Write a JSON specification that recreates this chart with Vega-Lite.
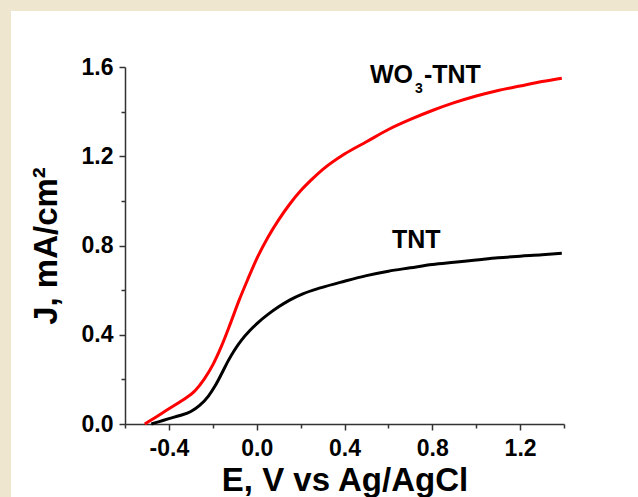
{
  "$schema": "https://vega.github.io/schema/vega-lite/v6.json",
  "width": 627,
  "height": 486,
  "autosize": "none",
  "padding": {"left": 11, "top": 11, "right": 0, "bottom": 0},
  "background": "#efe6cf",
  "config": {
    "view": {"fill": "white", "stroke": null},
    "font": "Liberation Sans"
  },
  "datasets": {
    "curves": [
      {"series": "WO3-TNT", "E": -0.51, "J": 0.0},
      {"series": "WO3-TNT", "E": -0.46, "J": 0.03},
      {"series": "WO3-TNT", "E": -0.40, "J": 0.068},
      {"series": "WO3-TNT", "E": -0.34, "J": 0.105},
      {"series": "WO3-TNT", "E": -0.28, "J": 0.15},
      {"series": "WO3-TNT", "E": -0.24, "J": 0.2},
      {"series": "WO3-TNT", "E": -0.20, "J": 0.265},
      {"series": "WO3-TNT", "E": -0.16, "J": 0.35},
      {"series": "WO3-TNT", "E": -0.12, "J": 0.45},
      {"series": "WO3-TNT", "E": -0.08, "J": 0.555},
      {"series": "WO3-TNT", "E": -0.04, "J": 0.65},
      {"series": "WO3-TNT", "E": 0.0, "J": 0.74},
      {"series": "WO3-TNT", "E": 0.05, "J": 0.835},
      {"series": "WO3-TNT", "E": 0.1, "J": 0.915},
      {"series": "WO3-TNT", "E": 0.15, "J": 0.985},
      {"series": "WO3-TNT", "E": 0.2, "J": 1.045},
      {"series": "WO3-TNT", "E": 0.25, "J": 1.095},
      {"series": "WO3-TNT", "E": 0.3, "J": 1.14},
      {"series": "WO3-TNT", "E": 0.4, "J": 1.21},
      {"series": "WO3-TNT", "E": 0.5, "J": 1.265},
      {"series": "WO3-TNT", "E": 0.6, "J": 1.32},
      {"series": "WO3-TNT", "E": 0.7, "J": 1.365},
      {"series": "WO3-TNT", "E": 0.8, "J": 1.405},
      {"series": "WO3-TNT", "E": 0.9, "J": 1.44},
      {"series": "WO3-TNT", "E": 1.0, "J": 1.47},
      {"series": "WO3-TNT", "E": 1.1, "J": 1.495},
      {"series": "WO3-TNT", "E": 1.2, "J": 1.515},
      {"series": "WO3-TNT", "E": 1.3, "J": 1.535},
      {"series": "WO3-TNT", "E": 1.39, "J": 1.55},
      {"series": "TNT", "E": -0.48, "J": 0.0},
      {"series": "TNT", "E": -0.44, "J": 0.012},
      {"series": "TNT", "E": -0.40, "J": 0.024},
      {"series": "TNT", "E": -0.35, "J": 0.038},
      {"series": "TNT", "E": -0.30, "J": 0.056},
      {"series": "TNT", "E": -0.26, "J": 0.083},
      {"series": "TNT", "E": -0.22, "J": 0.125},
      {"series": "TNT", "E": -0.19, "J": 0.17},
      {"series": "TNT", "E": -0.16, "J": 0.225},
      {"series": "TNT", "E": -0.13, "J": 0.283},
      {"series": "TNT", "E": -0.10, "J": 0.333},
      {"series": "TNT", "E": -0.07, "J": 0.375},
      {"series": "TNT", "E": -0.03, "J": 0.42},
      {"series": "TNT", "E": 0.01, "J": 0.458},
      {"series": "TNT", "E": 0.05, "J": 0.49},
      {"series": "TNT", "E": 0.1, "J": 0.525},
      {"series": "TNT", "E": 0.15, "J": 0.555},
      {"series": "TNT", "E": 0.21, "J": 0.583},
      {"series": "TNT", "E": 0.29, "J": 0.61},
      {"series": "TNT", "E": 0.4, "J": 0.64},
      {"series": "TNT", "E": 0.5, "J": 0.665},
      {"series": "TNT", "E": 0.6, "J": 0.685},
      {"series": "TNT", "E": 0.7, "J": 0.70},
      {"series": "TNT", "E": 0.8, "J": 0.715},
      {"series": "TNT", "E": 0.9, "J": 0.725},
      {"series": "TNT", "E": 1.0, "J": 0.735},
      {"series": "TNT", "E": 1.1, "J": 0.745},
      {"series": "TNT", "E": 1.2, "J": 0.752},
      {"series": "TNT", "E": 1.3, "J": 0.758},
      {"series": "TNT", "E": 1.39, "J": 0.765}
    ]
  },
  "layer": [
    {
      "data": {"name": "curves"},
      "mark": {"type": "line", "strokeWidth": 3, "interpolate": "monotone"},
      "encoding": {
        "x": {
          "field": "E", "type": "quantitative",
          "scale": {"domain": [-0.6, 1.4], "range": [114, 553], "nice": false, "zero": false},
          "axis": {
            "orient": "bottom",
            "offset": -73,
            "title": "E, V vs Ag/AgCl",
            "values": [-0.6, -0.4, -0.2, 0, 0.2, 0.4, 0.6, 0.8, 1.0, 1.2, 1.4],
            "labelExpr": "round(datum.value*10) % 4 == 0 ? replace(format(datum.value, '.1f'), '\u2212', '-') : ''",
            "tickSize": {"condition": {"test": "round(datum.value*10) % 4 == 0", "value": 6}, "value": 4},
            "grid": false,
            "domainColor": "#333333",
            "domainWidth": 1.5,
            "tickColor": "#333333",
            "tickWidth": 1.5,
            "labelFont": "Liberation Sans",
            "labelFontWeight": "bold",
            "labelFontSize": 23,
            "labelColor": "black",
            "labelPadding": 7,
            "labelFlush": false,
            "labelOverlap": false,
            "titleFont": "Liberation Sans",
            "titleFontWeight": "bold",
            "titleFontSize": 33,
            "titleColor": "black",
            "titlePadding": 4
          }
        },
        "y": {
          "field": "J", "type": "quantitative",
          "scale": {"domain": [0, 1.6], "range": [413, 56], "nice": false, "zero": false},
          "axis": {
            "orient": "left",
            "offset": -114,
            "title": "J, mA/cm²",
            "values": [0, 0.2, 0.4, 0.6, 0.8, 1.0, 1.2, 1.4, 1.6],
            "labelExpr": "round(datum.value*10) % 4 == 0 ? format(datum.value, '.1f') : ''",
            "tickSize": {"condition": {"test": "round(datum.value*10) % 4 == 0", "value": 6}, "value": 4},
            "grid": false,
            "domainColor": "#333333",
            "domainWidth": 1.5,
            "tickColor": "#333333",
            "tickWidth": 1.5,
            "labelFont": "Liberation Sans",
            "labelFontWeight": "bold",
            "labelFontSize": 23,
            "labelColor": "black",
            "labelPadding": 6,
            "labelFlush": false,
            "labelOverlap": false,
            "titleFont": "Liberation Sans",
            "titleFontWeight": "bold",
            "titleFontSize": 33,
            "titleColor": "black",
            "titlePadding": 18
          }
        },
        "color": {
          "field": "series", "type": "nominal",
          "scale": {"domain": ["WO3-TNT", "TNT"], "range": ["#ff0000", "#000000"]},
          "legend": null
        }
      }
    },
    {
      "data": {"values": [{}]},
      "mark": {"type": "text", "text": "WO", "align": "left", "baseline": "alphabetic", "fontSize": 25, "fontWeight": "bold", "font": "Liberation Sans", "color": "black"},
      "encoding": {"x": {"datum": 0.516, "type": "quantitative"}, "y": {"datum": 1.529, "type": "quantitative"}}
    },
    {
      "data": {"values": [{}]},
      "mark": {"type": "text", "text": "3", "align": "left", "baseline": "alphabetic", "fontSize": 14, "fontWeight": "bold", "font": "Liberation Sans", "color": "black"},
      "encoding": {"x": {"datum": 0.721, "type": "quantitative"}, "y": {"datum": 1.484, "type": "quantitative"}}
    },
    {
      "data": {"values": [{}]},
      "mark": {"type": "text", "text": "-TNT", "align": "left", "baseline": "alphabetic", "fontSize": 25, "fontWeight": "bold", "font": "Liberation Sans", "color": "black"},
      "encoding": {"x": {"datum": 0.762, "type": "quantitative"}, "y": {"datum": 1.529, "type": "quantitative"}}
    },
    {
      "data": {"values": [{}]},
      "mark": {"type": "text", "text": "TNT", "align": "left", "baseline": "alphabetic", "fontSize": 25, "fontWeight": "bold", "font": "Liberation Sans", "color": "black"},
      "encoding": {"x": {"datum": 0.616, "type": "quantitative"}, "y": {"datum": 0.789, "type": "quantitative"}}
    }
  ]
}
